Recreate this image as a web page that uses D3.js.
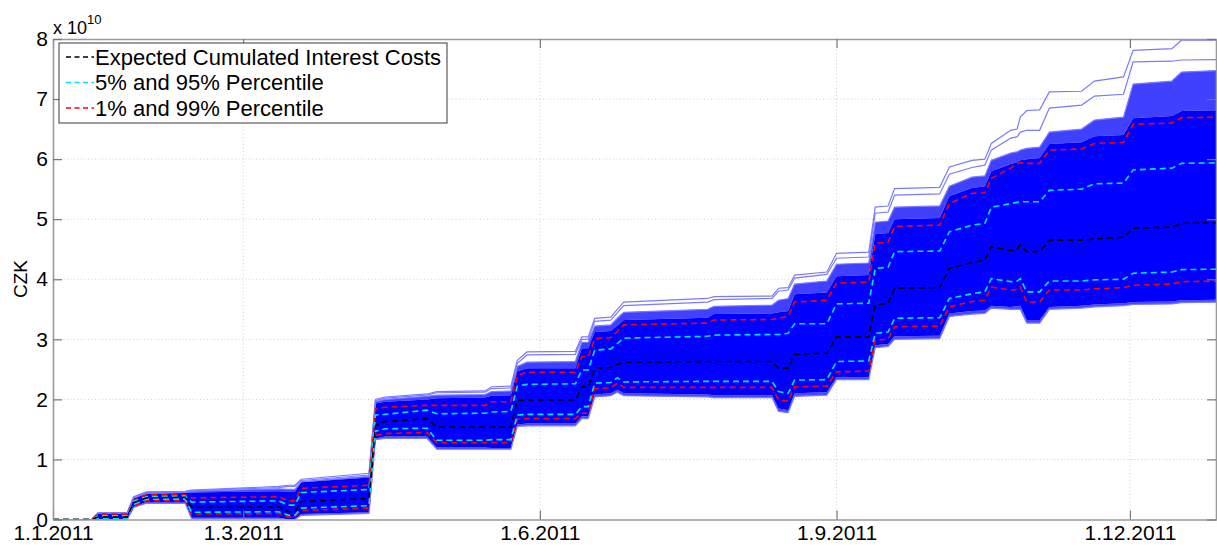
<!DOCTYPE html>
<html><head><meta charset="utf-8">
<script src="https://cdn.jsdelivr.net/npm/d3@7"></script>
<style>
body{margin:0;background:#fff}
svg{display:block}
text{font-family:"Liberation Sans",Arial,sans-serif;fill:#000}
</style>
</head><body>
<svg id="chart" width="1217" height="545"></svg>
<script>
// ---------- DATA (values in units of 10^10 CZK) ----------
const dates = ["2011-01-01","2011-01-13","2011-01-15","2011-01-24","2011-01-26","2011-01-30","2011-02-11","2011-02-13",
"2011-03-12","2011-03-15","2011-03-17","2011-03-19","2011-04-09","2011-04-11","2011-04-14","2011-04-27","2011-04-30",
"2011-05-15","2011-05-17","2011-05-23","2011-05-25","2011-05-28","2011-06-12","2011-06-14","2011-06-16","2011-06-18",
"2011-06-23","2011-06-25","2011-06-27","2011-07-23","2011-07-25","2011-08-12","2011-08-14","2011-08-17","2011-08-19",
"2011-08-29","2011-09-01","2011-09-11","2011-09-13","2011-09-17","2011-09-19","2011-10-03","2011-10-06","2011-10-13",
"2011-10-17","2011-10-19","2011-10-25","2011-10-27","2011-10-28","2011-10-30","2011-11-03","2011-11-06","2011-11-16",
"2011-11-20","2011-11-29","2011-12-02","2011-12-14","2011-12-17","2011-12-31"];

const maxPath = [0,0,.11,.11,.38,.46,.47,.49,.55,.57,.57,.67,.77,2.00,2.04,2.09,2.13,2.14,2.21,2.22,2.65,2.79,2.80,3.04,3.04,3.35,
3.37,3.50,3.62,3.68,3.71,3.72,3.85,3.86,4.07,4.12,4.43,4.45,5.20,5.22,5.51,5.53,5.87,5.98,6.00,6.26,6.48,6.50,6.70,6.81,6.82,
7.12,7.13,7.30,7.37,7.81,7.84,7.98,7.98];
const secondPath = [0,0,.11,.11,.37,.45,.46,.48,.53,.55,.55,.65,.74,1.98,2.02,2.07,2.11,2.12,2.18,2.19,2.60,2.74,2.75,3.00,3.00,3.30,
3.32,3.44,3.56,3.62,3.66,3.68,3.80,3.82,4.02,4.08,4.35,4.37,5.10,5.12,5.40,5.42,5.75,5.86,5.90,6.15,6.35,6.37,6.45,6.48,6.48,
6.85,6.90,7.05,7.08,7.62,7.63,7.65,7.66];
const clusterTop = [0,0,.11,.11,.36,.44,.45,.47,.51,.50,.50,.63,.72,1.96,2.00,2.05,2.07,2.08,2.13,2.14,2.55,2.62,2.63,2.95,2.95,3.22,
3.24,3.35,3.45,3.50,3.55,3.57,3.65,3.68,3.92,3.97,4.25,4.27,4.95,4.97,5.20,5.22,5.55,5.70,5.72,5.98,6.10,6.12,6.15,6.18,6.20,
6.45,6.50,6.65,6.70,7.25,7.30,7.45,7.48];
const bandTop = [0,0,.10,.10,.35,.43,.44,.45,.47,.46,.46,.62,.70,1.93,1.96,2.00,2.02,2.03,2.06,2.07,2.47,2.52,2.52,2.85,2.85,3.12,
3.14,3.23,3.32,3.36,3.42,3.43,3.45,3.47,3.75,3.78,4.05,4.07,4.75,4.77,5.00,5.02,5.38,5.52,5.55,5.80,5.92,5.95,5.98,6.00,6.02,
6.25,6.28,6.38,6.40,6.68,6.72,6.80,6.82];
const p99 = [0,0,.09,.09,.32,.41,.41,.36,.38,.31,.31,.52,.57,1.84,1.87,1.90,1.90,1.90,1.96,1.96,2.40,2.45,2.45,2.71,2.71,3.01,
3.03,3.13,3.24,3.27,3.32,3.33,3.35,3.38,3.62,3.65,3.94,3.95,4.60,4.62,4.88,4.90,5.26,5.43,5.44,5.68,5.85,5.92,5.94,5.93,5.93,
6.15,6.17,6.26,6.28,6.58,6.60,6.69,6.70];
const p95 = [0,0,.06,.06,.30,.38,.39,.29,.31,.24,.24,.45,.50,1.74,1.75,1.82,1.76,1.77,1.79,1.80,2.22,2.25,2.26,2.49,2.49,2.82,
2.84,2.93,3.02,3.05,3.07,3.08,3.08,3.10,3.26,3.26,3.59,3.60,4.18,4.20,4.46,4.47,4.79,4.90,4.93,5.20,5.26,5.28,5.29,5.29,5.29,
5.48,5.50,5.59,5.60,5.82,5.85,5.93,5.94];
const expected = [0,0,.04,.04,.28,.36,.37,.20,.21,.13,.13,.30,.35,1.57,1.63,1.68,1.54,1.54,1.54,1.54,1.98,1.99,1.99,2.21,2.21,2.52,
2.53,2.58,2.62,2.63,2.63,2.63,2.52,2.52,2.75,2.77,3.04,3.04,3.57,3.60,3.85,3.86,4.18,4.28,4.32,4.54,4.48,4.50,4.57,4.46,4.46,
4.65,4.65,4.67,4.70,4.85,4.87,4.93,4.94];
const p5 = [0,0,.02,.02,.25,.34,.34,.12,.13,.07,.07,.19,.23,1.47,1.51,1.52,1.32,1.32,1.33,1.33,1.74,1.75,1.75,1.88,1.88,2.27,
2.28,2.36,2.29,2.30,2.30,2.30,2.13,2.10,2.32,2.33,2.63,2.64,3.10,3.12,3.35,3.36,3.68,3.76,3.79,4.01,3.96,3.97,4.01,3.79,3.79,
3.97,3.97,3.99,4.00,4.10,4.12,4.16,4.17];
const p1 = [0,0,.01,.01,.22,.31,.31,.09,.10,.04,.04,.15,.19,1.40,1.43,1.45,1.28,1.28,1.28,1.28,1.67,1.68,1.68,1.77,1.77,2.18,
2.19,2.27,2.20,2.20,2.20,2.20,1.99,1.97,2.21,2.22,2.46,2.47,2.99,3.00,3.21,3.22,3.54,3.63,3.65,3.87,3.82,3.83,3.87,3.62,3.62,
3.82,3.82,3.84,3.86,3.90,3.92,3.96,3.97];
const bandBottom = [0,0,0,0,.21,.29,.29,.03,.03,0,0,.09,.12,1.35,1.38,1.38,1.20,1.20,1.19,1.19,1.58,1.60,1.60,1.72,1.72,2.08,
2.10,2.16,2.10,2.08,2.07,2.07,1.85,1.82,2.10,2.12,2.37,2.37,2.90,2.92,3.05,3.06,3.43,3.47,3.48,3.56,3.54,3.55,3.56,3.32,3.32,
3.54,3.56,3.58,3.60,3.62,3.63,3.65,3.66];
const minPath = [0,0,0,0,.20,.27,.27,.01,.01,0,0,.07,.10,1.33,1.35,1.35,1.17,1.17,1.17,1.17,1.55,1.56,1.56,1.68,1.68,2.04,
2.06,2.12,2.06,2.04,2.03,2.03,1.80,1.78,2.05,2.07,2.33,2.33,2.86,2.88,3.00,3.01,3.38,3.42,3.43,3.52,3.50,3.50,3.50,3.27,3.27,
3.50,3.52,3.54,3.56,3.58,3.59,3.61,3.62];

const yTicks = [0,1,2,3,4,5,6,7,8];
const xTickDates = ["2011-01-01","2011-03-01","2011-06-01","2011-09-01","2011-12-01"];
const xTickLabels = ["1.1.2011","1.3.2011","1.6.2011","1.9.2011","1.12.2011"];
const legendLabels = ["Expected Cumulated Interest Costs","5% and 95% Percentile","1% and 99% Percentile"];
const legendColors = ["#000000","#00e5ff","#ff0000"];

// ---------- LAYOUT ----------
const L = 53, R = 1217, T = 39, B = 519.5;
const parse = d3.timeParse("%Y-%m-%d");
const x = d3.scaleTime().domain([parse("2011-01-01"), parse("2011-12-28")]).range([L, R]);
const y = d3.scaleLinear().domain([0, 8]).range([B, T]);

const svg = d3.select("#chart");
svg.append("defs").append("clipPath").attr("id","plot")
  .append("rect").attr("x",L).attr("y",T).attr("width",R-L).attr("height",B-T);

// grid
const grid = svg.append("g");
grid.selectAll(".gy").data(yTicks.slice(1,-1)).join("line")
  .attr("x1",L).attr("x2",R).attr("y1",d=>y(d)).attr("y2",d=>y(d))
  .attr("stroke","#cfcfcf").attr("stroke-width",1).attr("stroke-dasharray","1,2.5");
grid.selectAll(".gx").data(xTickDates.slice(1)).join("line")
  .attr("x1",d=>x(parse(d))).attr("x2",d=>x(parse(d))).attr("y1",T).attr("y2",B)
  .attr("stroke","#cfcfcf").attr("stroke-width",1).attr("stroke-dasharray","1,2.5");

// data
const pts = dates.map((d,i)=>({t:parse(d), i}));
const plot = svg.append("g").attr("clip-path","url(#plot)");
const area = (lo,hi)=>d3.area().x(d=>x(d.t)).y0(d=>y(lo[d.i])).y1(d=>y(hi[d.i]));
const line = s=>d3.line().x(d=>x(d.t)).y(d=>y(s[d.i]));

plot.append("path").datum(pts).attr("d",area(bandTop,clusterTop)).attr("fill","#4040ff");
plot.append("path").datum(pts).attr("d",area(minPath,bandBottom)).attr("fill","#4848ff");
plot.append("path").datum(pts).attr("d",area(bandBottom,bandTop)).attr("fill","#0000ff");
[maxPath, secondPath, clusterTop, minPath].forEach(s=>{
  plot.append("path").datum(pts).attr("d",line(s)).attr("fill","none")
    .attr("stroke","#7a7aff").attr("stroke-width",1.2);
});
const pct = [[p99,"#ff0000"],[p1,"#ff0000"],[p95,"#00e5ff"],[p5,"#00e5ff"],[expected,"#000000"]];
pct.forEach(([s,c])=>{
  plot.append("path").datum(pts).attr("d",line(s)).attr("fill","none")
    .attr("stroke",c).attr("stroke-width",1.6).attr("stroke-dasharray","6,4");
});

// axes
const axisColor = "#9a9a9a";
const styleAxis = g=>{
  g.select(".domain").attr("stroke",axisColor).attr("stroke-width",1.6);
  g.selectAll(".tick line").attr("stroke","#777").attr("stroke-width",1.2);
  g.selectAll("text").attr("font-size",21).attr("fill","#111")
    .attr("font-family","Liberation Sans, Arial, sans-serif");
};
const xt = xTickDates.map(parse);
svg.append("g").attr("transform",`translate(0,${B})`)
  .call(d3.axisBottom(x).tickValues(xt).tickFormat((d,i)=>xTickLabels[i]).tickSizeInner(-9).tickSizeOuter(0).tickPadding(6))
  .call(styleAxis);
svg.append("g").attr("transform",`translate(0,${T})`)
  .call(d3.axisTop(x).tickValues(xt).tickFormat("").tickSizeInner(-9).tickSizeOuter(0))
  .call(styleAxis);
svg.append("g").attr("transform",`translate(${L},0)`)
  .call(d3.axisLeft(y).tickValues(yTicks).tickFormat(d3.format("d")).tickSizeInner(-9).tickSizeOuter(0).tickPadding(5))
  .call(styleAxis);
svg.append("g").attr("transform",`translate(${R-1},0)`)
  .call(d3.axisRight(y).tickValues(yTicks).tickFormat("").tickSizeInner(-9).tickSizeOuter(0))
  .call(styleAxis);

// exponent label
const ex = svg.append("text").attr("x",53).attr("y",34).attr("font-size",18);
ex.append("tspan").text("x 10");
ex.append("tspan").attr("dy",-10).attr("font-size",13).text("10");

// y label
svg.append("text").attr("transform","translate(27,279) rotate(-90)")
  .attr("text-anchor","middle").attr("font-size",19).text("CZK");

// legend
const lg = svg.append("g");
lg.append("rect").attr("x",59).attr("y",43).attr("width",388).attr("height",80)
  .attr("fill","#fff").attr("stroke","#3a3a3a").attr("stroke-width",1);
legendLabels.forEach((lab,i)=>{
  const cy = 57 + i*25.5;
  lg.append("line").attr("x1",66).attr("x2",94).attr("y1",cy).attr("y2",cy)
    .attr("stroke",legendColors[i]).attr("stroke-width",1.4).attr("stroke-dasharray","5,3.5");
  lg.append("text").attr("x",95).attr("y",cy+7.5).attr("font-size",22).text(lab);
});
</script>
</body></html>
